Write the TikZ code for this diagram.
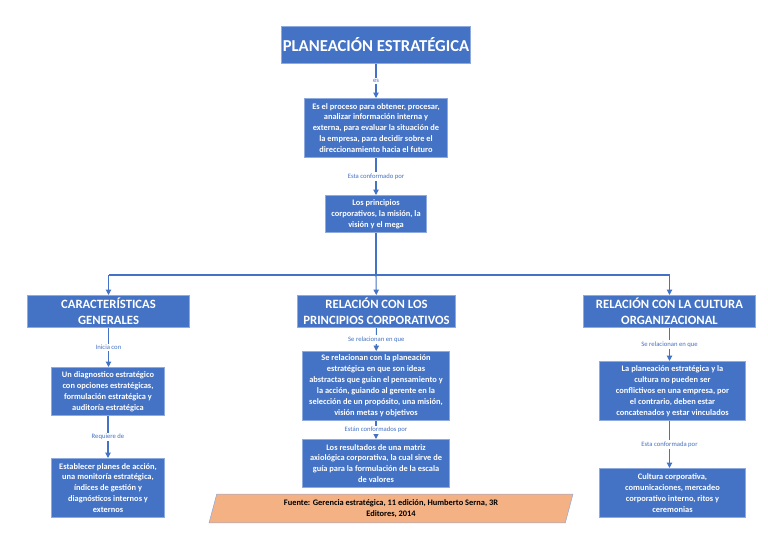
\documentclass[tikz,border=0pt]{standalone}
\usepackage{fontspec}
\setmainfont{Carlito}
\usetikzlibrary{arrows.meta,shapes.geometric}
\definecolor{bl}{HTML}{4472C4}
\definecolor{bd}{HTML}{8FAADC}
\definecolor{lc}{HTML}{4472C4}
\definecolor{og}{HTML}{F4B183}
\begin{document}
\begin{tikzpicture}[x=0.75pt,y=-0.75pt,
 bx/.style={fill=bl,draw=bd,line width=0.8pt,text=white,align=center,inner sep=1pt},
 txt/.style={font=\fontsize{6.3}{8.2}\selectfont\bfseries},
 hd/.style={font=\fontsize{9.5}{12}\selectfont\bfseries},
 lab/.style={font=\fontsize{5}{6}\selectfont,text=lc,fill=white,inner sep=1pt},
 ar/.style={draw=lc,line width=0.8pt,-{Triangle[width=4pt,length=4pt]}},
 ln/.style={draw=lc,line width=0.8pt}]
\useasboundingbox (0,0) rectangle (768,543);
\newcommand\bbox[6]{\node[bx,#6,minimum width=#3*0.75pt-0.8pt,minimum height=#4*0.75pt-0.8pt] (#1) at (#2) {#5};}
\bbox{t}{376,45}{188}{38}{PLANEACIÓN ESTRATÉGICA}{font=\fontsize{12.5}{14}\selectfont\bfseries}
\bbox{b2}{376,128}{144}{60}{Es el proceso para obtener, procesar,\\analizar información interna y\\externa, para evaluar la situación de\\la empresa, para decidir sobre el\\direccionamiento hacia el futuro}{txt}
\bbox{b3}{376,214}{102}{38}{Los principios\\corporativos, la misión, la\\visión y el mega}{txt}
\bbox{h1}{108.5,311.5}{163}{33}{CARACTERÍSTICAS\\GENERALES}{hd}
\bbox{h2}{376.5,311.5}{159}{33}{RELACIÓN CON LOS\\PRINCIPIOS CORPORATIVOS}{hd}
\bbox{h3}{669.5,311.5}{173}{33}{RELACIÓN CON LA CULTURA\\ORGANIZACIONAL}{hd}
\bbox{l1}{108,391.5}{114}{49}{Un diagnostico estratégico\\con opciones estratégicas,\\formulación estratégica y\\auditoría estratégica}{txt}
\bbox{l2}{108,488}{114}{60}{Establecer planes de acción,\\una monitoría estratégica,\\índices de gestión y\\diagnósticos internos y\\externos}{txt}
\bbox{m1}{376,386}{148}{70}{Se relacionan con la planeación\\estratégica en que son ideas\\abstractas que guían el pensamiento y\\la acción, guiando al gerente en la\\selección de un propósito, una misión,\\visión metas y objetivos}{txt}
\bbox{m2}{376,463.5}{148}{49}{Los resultados de una matriz\\axiológica corporativa, la cual sirve de\\guía para la formulación de la escala\\de valores}{txt}
\bbox{r1}{672.5,391}{147}{60}{La planeación estratégica y la\\cultura no pueden ser\\conflictivos en una empresa, por\\el contrario, deben estar\\concatenados y estar vinculados}{txt}
\bbox{r2}{672.5,493}{147}{50}{Cultura corporativa,\\comunicaciones, mercadeo\\corporativo interno, ritos y\\ceremonias}{txt}
\node[trapezium,trapezium left angle=75,trapezium right angle=105,fill=og,draw=bd,minimum width=364*0.75pt,minimum height=19*0.75pt,inner sep=0pt,align=center,font=\fontsize{6.3}{8}\selectfont\bfseries] (src) at (391,508.5) {Fuente: Gerencia estratégica, 11 edición, Humberto Serna, 3R\\Editores, 2014};
\draw[ar] (t) -- node[lab]{es} (b2);
\draw[ar] (b2) -- node[lab]{Esta conformado por} (b3);
\coordinate (j) at (376,275); \coordinate (jl) at (108.5,275); \coordinate (jr) at (669.5,275);
\draw[ln] (b3) -- (j); \draw[ln] (jl) -- (jr);
\draw[ar] (j) -- (h2); \draw[ar] (jl) -- (h1); \draw[ar] (jr) -- (h3);
\draw[ar] (h1) -- node[lab,pos=0.5]{Inicia con} (h1|-l1.north);
\draw[ar] (l1) -- node[lab]{Requiere de} (l2);
\draw[ar] (h2) -- node[lab,pos=0.5]{Se relacionan en que} (m1);
\draw[ar] (m1) -- node[lab]{Están conformados por} (m2);
\draw[ar] (h3.south) -- node[lab]{Se relacionan en que} (h3.south|-r1.north);
\draw[ar] (r1.south-|h3.south) -- node[lab]{Esta conformada por} (h3.south|-r2.north);
\end{tikzpicture}
\end{document}
